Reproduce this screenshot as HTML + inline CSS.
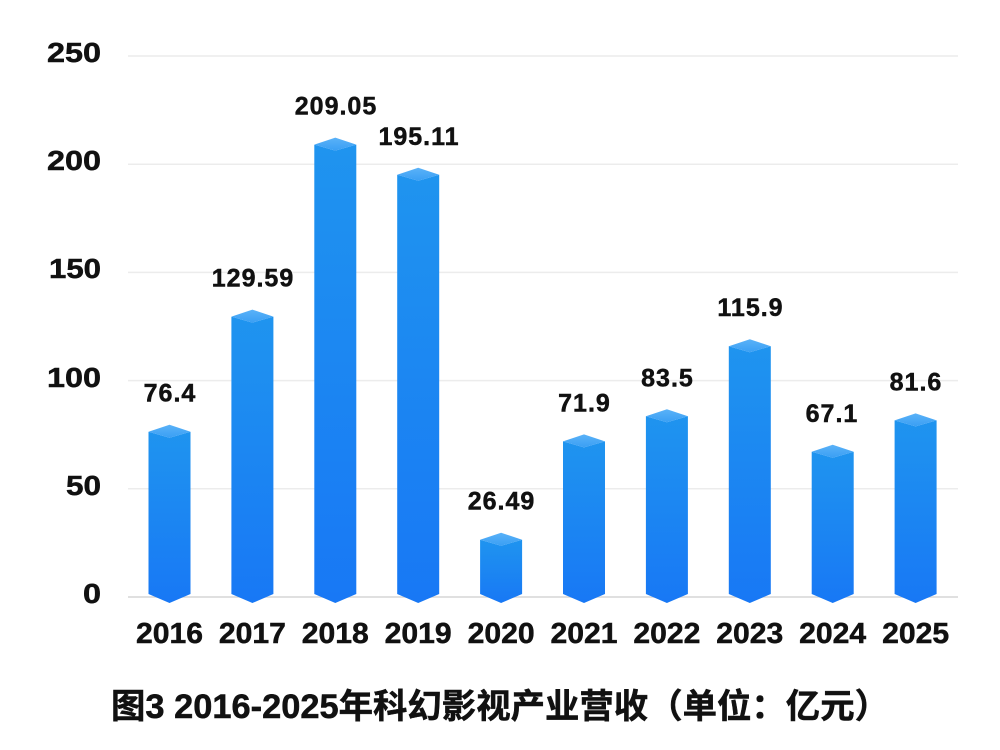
<!DOCTYPE html>
<html>
<head>
<meta charset="utf-8">
<style>
  html,body{margin:0;padding:0;background:#fff;}
  svg{display:block;}
  text{font-family:"Liberation Sans","Noto Sans CJK SC",sans-serif;font-weight:bold;fill:#111;stroke:#111;stroke-width:0.5;}
</style>
</head>
<body>
<svg width="1000" height="750" viewBox="0 0 1000 750" xmlns="http://www.w3.org/2000/svg">
  <defs>
    <linearGradient id="body" x1="0" y1="0" x2="0" y2="1">
      <stop offset="0" stop-color="#1f94ef"/>
      <stop offset="1" stop-color="#1878f5"/>
    </linearGradient>
    <linearGradient id="topf" x1="0" y1="0" x2="0" y2="1">
      <stop offset="0" stop-color="#5ab2f8"/>
      <stop offset="1" stop-color="#3a9ff4"/>
    </linearGradient>
  </defs>
  <rect width="1000" height="750" fill="#fff"/>

  <!-- grid -->
  <g stroke="#ececec" stroke-width="1.5">
    <line x1="128" y1="56" x2="958" y2="56"/>
    <line x1="128" y1="164.2" x2="958" y2="164.2"/>
    <line x1="128" y1="272.4" x2="958" y2="272.4"/>
    <line x1="128" y1="380.6" x2="958" y2="380.6"/>
    <line x1="128" y1="488.8" x2="958" y2="488.8"/>
  </g>
  <line x1="128" y1="597" x2="958" y2="597" stroke="#d6d6d6" stroke-width="1.5"/>

  <!-- y labels -->
  <g font-size="28" text-anchor="end">
    <text x="101" y="62" textLength="54" lengthAdjust="spacingAndGlyphs">250</text>
    <text x="101" y="170" textLength="54" lengthAdjust="spacingAndGlyphs">200</text>
    <text x="101" y="278" textLength="52" lengthAdjust="spacingAndGlyphs">150</text>
    <text x="101" y="387" textLength="54" lengthAdjust="spacingAndGlyphs">100</text>
    <text x="101" y="495" textLength="35" lengthAdjust="spacingAndGlyphs">50</text>
    <text x="101" y="603" textLength="18" lengthAdjust="spacingAndGlyphs">0</text>
  </g>

  <!-- bars -->
  <g>
    <polygon fill="url(#body)" points="148.5,431.7 169.5,437.7 190.5,431.7 190.5,594 169.5,603 148.5,594"/>
    <polygon fill="url(#topf)" points="148.5,431.7 169.5,424.7 190.5,431.7 169.5,437.7"/>
    <polygon fill="url(#body)" points="231.4,316.6 252.4,322.6 273.4,316.6 273.4,594 252.4,603 231.4,594"/>
    <polygon fill="url(#topf)" points="231.4,316.6 252.4,309.6 273.4,316.6 252.4,322.6"/>
    <polygon fill="url(#body)" points="314.3,144.6 335.3,150.6 356.3,144.6 356.3,594 335.3,603 314.3,594"/>
    <polygon fill="url(#topf)" points="314.3,144.6 335.3,137.6 356.3,144.6 335.3,150.6"/>
    <polygon fill="url(#body)" points="397.2,174.8 418.2,180.8 439.2,174.8 439.2,594 418.2,603 397.2,594"/>
    <polygon fill="url(#topf)" points="397.2,174.8 418.2,167.8 439.2,174.8 418.2,180.8"/>
    <polygon fill="url(#body)" points="480.1,539.7 501.1,545.7 522.1,539.7 522.1,594 501.1,603 480.1,594"/>
    <polygon fill="url(#topf)" points="480.1,539.7 501.1,532.7 522.1,539.7 501.1,545.7"/>
    <polygon fill="url(#body)" points="563,441.4 584,447.4 605,441.4 605,594 584,603 563,594"/>
    <polygon fill="url(#topf)" points="563,441.4 584,434.4 605,441.4 584,447.4"/>
    <polygon fill="url(#body)" points="645.9,416.3 666.9,422.3 687.9,416.3 687.9,594 666.9,603 645.9,594"/>
    <polygon fill="url(#topf)" points="645.9,416.3 666.9,409.3 687.9,416.3 666.9,422.3"/>
    <polygon fill="url(#body)" points="728.8,346.2 749.8,352.2 770.8,346.2 770.8,594 749.8,603 728.8,594"/>
    <polygon fill="url(#topf)" points="728.8,346.2 749.8,339.2 770.8,346.2 749.8,352.2"/>
    <polygon fill="url(#body)" points="811.7,451.8 832.7,457.8 853.7,451.8 853.7,594 832.7,603 811.7,594"/>
    <polygon fill="url(#topf)" points="811.7,451.8 832.7,444.8 853.7,451.8 832.7,457.8"/>
    <polygon fill="url(#body)" points="894.6,420.4 915.6,426.4 936.6,420.4 936.6,594 915.6,603 894.6,594"/>
    <polygon fill="url(#topf)" points="894.6,420.4 915.6,413.4 936.6,420.4 915.6,426.4"/>
  </g>

  <!-- value labels -->
  <g font-size="25" text-anchor="middle" letter-spacing="1">
    <text x="170" y="401.7">76.4</text>
    <text x="253" y="286.6">129.59</text>
    <text x="336" y="114.6">209.05</text>
    <text x="419" y="144.8">195.11</text>
    <text x="501.5" y="509.7">26.49</text>
    <text x="584.5" y="411.4">71.9</text>
    <text x="667.5" y="386.3">83.5</text>
    <text x="750.5" y="316.2">115.9</text>
    <text x="832" y="421.8">67.1</text>
    <text x="916" y="390.4">81.6</text>
  </g>

  <!-- x labels -->
  <g font-size="29" text-anchor="middle">
    <text x="169.5" y="643" textLength="67" lengthAdjust="spacingAndGlyphs">2016</text>
    <text x="252.4" y="643" textLength="67" lengthAdjust="spacingAndGlyphs">2017</text>
    <text x="335.3" y="643" textLength="67" lengthAdjust="spacingAndGlyphs">2018</text>
    <text x="418.2" y="643" textLength="67" lengthAdjust="spacingAndGlyphs">2019</text>
    <text x="501.1" y="643" textLength="67" lengthAdjust="spacingAndGlyphs">2020</text>
    <text x="584" y="643" textLength="67" lengthAdjust="spacingAndGlyphs">2021</text>
    <text x="666.9" y="643" textLength="67" lengthAdjust="spacingAndGlyphs">2022</text>
    <text x="749.8" y="643" textLength="67" lengthAdjust="spacingAndGlyphs">2023</text>
    <text x="832.7" y="643" textLength="67" lengthAdjust="spacingAndGlyphs">2024</text>
    <text x="915.6" y="643" textLength="67" lengthAdjust="spacingAndGlyphs">2025</text>
  </g>

  <!-- title -->
  <text x="111" y="718" font-size="34" textLength="778" lengthAdjust="spacingAndGlyphs">图3 2016-2025年科幻影视产业营收（单位：亿元）</text>
</svg>
</body>
</html>
